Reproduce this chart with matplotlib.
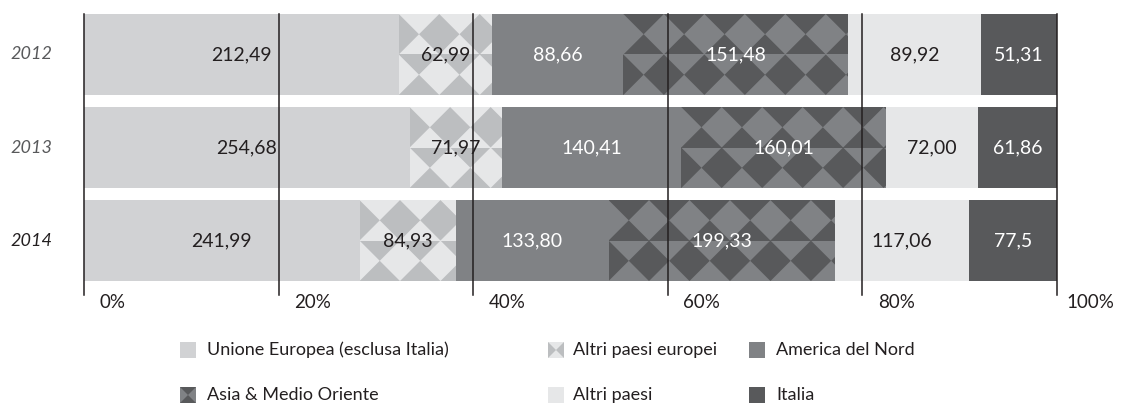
import matplotlib.pyplot as plt
from matplotlib.patches import Polygon, Rectangle
import matplotlib.transforms as mtransforms
import numpy as np

plt.rcParams['font.family'] = ['Lato', 'DejaVu Sans']

years = ["2012", "2013", "2014"]
categories = ["Unione Europea (esclusa Italia)", "Altri paesi europei", "America del Nord",
              "Asia & Medio Oriente", "Altri paesi", "Italia"]
# values as printed in the chart (Italian decimal comma)
eu = ["212,49", "254,68", "241,99"]
altri_eur = ["62,99", "71,97", "84,93"]
america = ["88,66", "140,41", "133,80"]
asia = ["151,48", "160,01", "199,33"]
altri = ["89,92", "72,00", "117,06"]
italia = ["51,31", "61,86", "77,5"]
ticks = [0, 20, 40, 60, 80, 100]
tick_labels = ["0%", "20%", "40%", "60%", "80%", "100%"]

series = [eu, altri_eur, america, asia, altri, italia]
vals = np.array([[float(s.replace(',', '.')) for s in ser] for ser in series])
pct = vals / vals.sum(axis=0) * 100

# base colour, pattern colour (None = solid), label colour
base_col = ['#d1d2d4', '#e6e7e8', '#808285', '#58595b', '#e6e7e8', '#58595b']
patt_col = [None, '#bcbec0', None, '#808285', None, None]
txt_col = ['#231f20', '#231f20', 'white', 'white', '#231f20', 'white']

W, H = 1121, 409
fig = plt.figure(figsize=(W / 100, H / 100), dpi=100)
ax = fig.add_axes([84 / W, (H - 295) / H, 973 / W, 281 / H])
bar_h = 0.87
ax.set_xlim(0, 100)
ax.set_ylim(2 + bar_h / 2 + 0.15, -bar_h / 2)
ax.set_axis_off()

# tile size so the pattern cells come out square in pixels
px_x = 973 / 100
px_y = 281 / (2 + bar_h + 0.15)
th = bar_h / 2
tw = th * px_y / px_x


def pattern(bar, x0, w, yc, c_diam, c_bg):
    for r in range(2):
        ty = yc - bar_h / 2 + r * th
        cd, cb = (c_diam, c_bg) if r == 0 else (c_bg, c_diam)
        rect = Rectangle((x0, ty), w, th, facecolor=cb, linewidth=0, zorder=2)
        ax.add_patch(rect)
        rect.set_clip_path(bar)
        n = int(np.ceil(w / tw)) + 1
        for j in range(n + 1):
            cx = x0 + j * tw
            cy = ty + th / 2
            p = Polygon([(cx - tw / 2, cy), (cx, ty), (cx + tw / 2, cy), (cx, ty + th)],
                        closed=True, facecolor=cd, linewidth=0, zorder=2)
            ax.add_patch(p)
            p.set_clip_path(bar)


y = np.arange(len(years))
left = np.zeros(len(years))
for k in range(len(series)):
    bars = ax.barh(y, pct[k], left=left, height=bar_h, color=base_col[k], linewidth=0, zorder=1)
    for i, b in enumerate(bars):
        if patt_col[k] is not None:
            pattern(b, left[i], pct[k][i], y[i], patt_col[k], base_col[k])
        ax.text(left[i] + pct[k][i] / 2, y[i], series[k][i], ha='center', va='center',
                color=txt_col[k], fontsize=14, zorder=4)
    left += pct[k]

for t in ticks:
    ax.axvline(t, color='#231f20', lw=1.1, zorder=5, clip_on=False)

tr = mtransforms.blended_transform_factory(ax.transData, fig.transFigure)
for t, lab in zip(ticks, tick_labels):
    off = 1.0 if t == 100 else 1.6
    fig.text(t + off, 1 - 302 / H, lab, transform=tr, ha='left', va='center',
             fontsize=13.5, color='#231f20')

tr2 = mtransforms.blended_transform_factory(fig.transFigure, ax.transData)
for i, yr in enumerate(years):
    fig.text(10 / W, y[i], yr, transform=tr2, ha='left', va='center', fontsize=13,
             style='italic', color='#231f20' if yr == "2014" else '#58595b')

# legend drawn by hand, two rows of three
lax = fig.add_axes([0, 0, 1, 1], zorder=-1)
lax.set_xlim(0, W)
lax.set_ylim(H, 0)
lax.set_axis_off()
icon_x = [180, 548, 749]
text_x = [207, 573, 776]
row_y = [350, 395]
s = 16
for k, name in enumerate(categories):
    cx = icon_x[k % 3]
    cy = row_y[k // 3]
    x0, y0 = cx, cy - s / 2
    if patt_col[k] is None:
        lax.add_patch(Rectangle((x0, y0), s, s, facecolor=base_col[k], linewidth=0))
    else:
        mx, my = x0 + s / 2, y0 + s / 2
        side, tb = patt_col[k], base_col[k]
        lax.add_patch(Rectangle((x0, y0), s, s, facecolor=tb, linewidth=0))
        lax.add_patch(Polygon([(x0, y0), (mx, my), (x0, y0 + s)], facecolor=side, linewidth=0))
        lax.add_patch(Polygon([(x0 + s, y0), (mx, my), (x0 + s, y0 + s)], facecolor=side, linewidth=0))
    lax.text(text_x[k % 3], cy, name, ha='left', va='center', fontsize=13, color='#231f20')

fig.savefig('out.png', dpi=100)
